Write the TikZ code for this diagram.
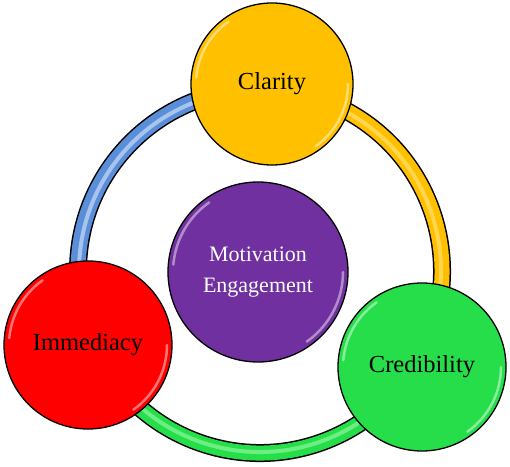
\documentclass[tikz,border=0pt]{standalone}
\usepackage{fontspec}
\setmainfont{Liberation Serif}
\begin{document}
\begin{tikzpicture}[x=1pt,y=1pt,
  bubble/.style={circle,draw=black,line width=1.3pt,inner sep=0pt,minimum size=#1,
    font=\fontsize{24.5}{28}\selectfont},
  ringout/.style={line width=18pt,draw=black},
  ringin/.style={line width=15pt,draw=#1},
  ringhi/.style={line width=4pt,draw=#1,opacity=0.7},
  gloss/.style={white,opacity=0.45,line width=2.5pt,line cap=round},
]
\definecolor{cgold}{HTML}{FFC000}
\definecolor{cgoldhi}{HTML}{FFE070}
\definecolor{cblue}{HTML}{5B8ED8}
\definecolor{cbluehi}{HTML}{C8DCF8}
\definecolor{cgreen}{HTML}{26DE4A}
\definecolor{cgreenhi}{HTML}{8AF59C}
\definecolor{cred}{HTML}{FF0000}
\definecolor{cpurple}{HTML}{7030A0}
\useasboundingbox (0,0) rectangle (510,466);
\coordinate (rc) at (260,195);
\def\R{182}
% ring segments
\foreach \a/\b/\c/\h in {86/203/cblue/cbluehi, -31/86/cgold/cgoldhi, 203/329/cgreen/cgreenhi}{
  \draw[ringout] (rc) ++(\a:\R) arc[start angle=\a,end angle=\b,radius=\R];
}
\foreach \a/\b/\c/\h in {86/203/cblue/cbluehi, -31/86/cgold/cgoldhi, 203/329/cgreen/cgreenhi}{
  \draw[ringin=\c] (rc) ++(\a:\R) arc[start angle=\a,end angle=\b,radius=\R];
  \draw[ringhi=\h] (rc) ++(\a:\R-1) arc[start angle=\a,end angle=\b,radius=\R-1];
}
% circles
\node[bubble=162pt,fill=cgold] (clarity) at (272,382) {Clarity};
\node[bubble=180pt,fill=cpurple,text=white,align=center,font=\fontsize{22}{31}\selectfont] (motiv) at (258,194) {Motivation\\Engagement};
\node[bubble=168pt,fill=cred] (immed) at (88,121) {Immediacy};
\node[bubble=168pt,fill=cgreen] (cred) at (422,99) {Credibility};
% gloss highlights
\foreach \n/\r in {clarity/81, motiv/90, immed/84, cred/84}{
  \draw[gloss] (\n.center) ++(125:\r-5) arc[start angle=125,end angle=175,radius=\r-5];
  \draw[gloss] (\n.center) ++(-55:\r-5) arc[start angle=-55,end angle=0,radius=\r-5];
}
\end{tikzpicture}
\end{document}
